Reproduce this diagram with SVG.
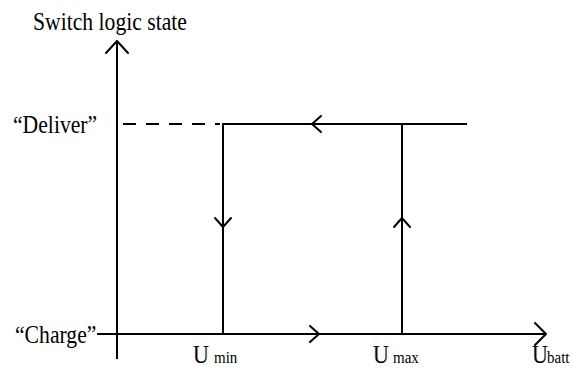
<svg xmlns="http://www.w3.org/2000/svg" width="573" height="369" viewBox="0 0 573 369">
<style>
.t{font-family:"Liberation Serif",serif;font-size:22px;fill:#000}
.s{font-size:15px}
.l{stroke:#000;stroke-width:2;fill:none}
.c{stroke:#000;stroke-width:2;fill:none;stroke-linecap:round;stroke-linejoin:round}
</style>
<rect width="573" height="369" fill="#fff"/>
<g id="labels">
<text class="t" transform="translate(33,30) scale(0.985,1.12)">Switch logic state</text>
<text class="t" transform="translate(13,133) scale(0.985,1.12)">“Deliver”</text>
<text class="t" transform="translate(15,343) scale(0.985,1.12)">“Charge”</text>
<text class="t" transform="translate(193,363) scale(1,1.12)">U<tspan class="s" x="21">min</tspan></text>
<text class="t" transform="translate(373,363) scale(1,1.12)">U<tspan class="s" x="20">max</tspan></text>
<text class="t" transform="translate(532,363) scale(1,1.12)">U<tspan class="s" x="15">batt</tspan></text>
</g>
<g id="axes">
<line class="l" x1="117" y1="41" x2="117" y2="359"/>
<polyline class="c" points="106,53 117,41 128,53"/>
<line class="l" x1="97" y1="334" x2="546" y2="334"/>
<polyline class="c" points="535,323 546,334 535,345"/>
</g>
<g id="connectors">
<line class="l" x1="118" y1="124" x2="220" y2="124" stroke-dasharray="13,10" stroke-dashoffset="-5"/>
<line class="l" x1="222" y1="124" x2="467" y2="124"/>
<line class="l" x1="223" y1="124" x2="223" y2="334"/>
<line class="l" x1="402" y1="124" x2="402" y2="334"/>
<polyline class="c" points="215,218 223,227 231,218"/>
<polyline class="c" points="394,227 402,218 410,227"/>
<polyline class="c" points="321,116 312,124 321,132"/>
<polyline class="c" points="310,326 319,334 310,342"/>
</g>
</svg>
